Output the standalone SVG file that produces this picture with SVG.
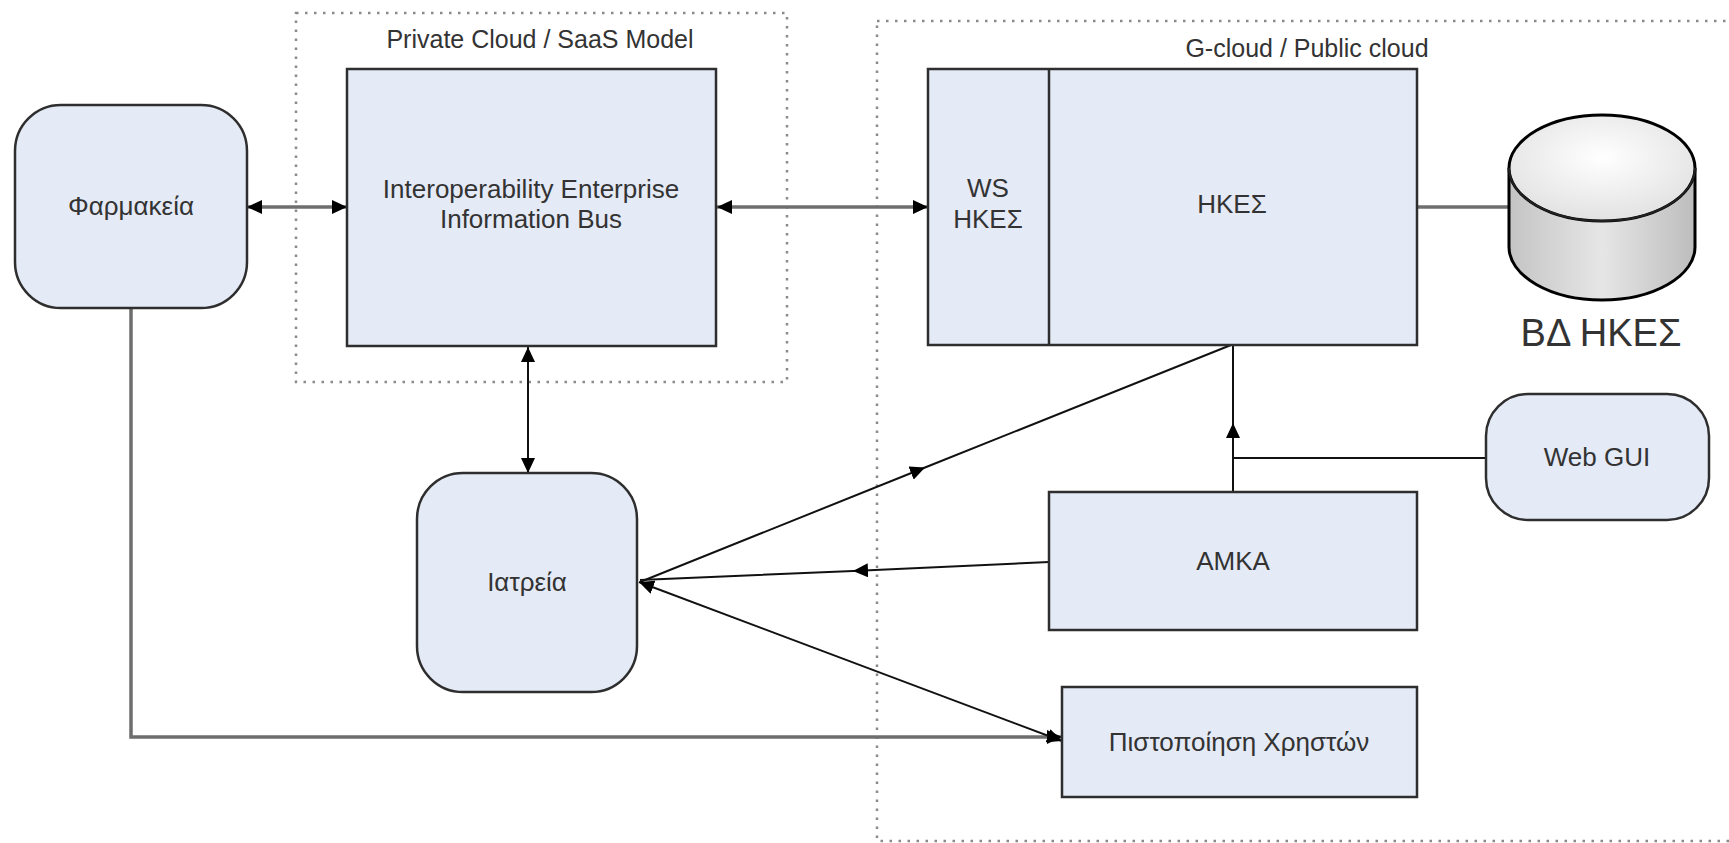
<svg xmlns="http://www.w3.org/2000/svg" width="1729" height="843" viewBox="0 0 1729 843">
  <style>
    .zone { fill: none; stroke: #8a8a8a; stroke-width: 2.5; stroke-dasharray: 2.5 6.5; }
    .box { fill: #e4eaf6; stroke: #2e2e2e; stroke-width: 2.5; }
    .lbl { font-family: "Liberation Sans", Arial, sans-serif; font-size: 26px; fill: #333333; text-anchor: middle; }
    .zlbl { font-family: "Liberation Sans", Arial, sans-serif; font-size: 25px; fill: #333333; text-anchor: middle; }
    .thick { fill: none; stroke: #6e6e6e; stroke-width: 3.5; }
    .thin { fill: none; stroke: #111111; stroke-width: 2; }
  </style>
  <defs>
    <marker id="arrowEnd" markerUnits="userSpaceOnUse" markerWidth="16" markerHeight="14" refX="15" refY="7" orient="auto">
      <path d="M0,0 L15,7 L0,14 Z" fill="#000"/>
    </marker>
    <marker id="arrowStart" markerUnits="userSpaceOnUse" markerWidth="16" markerHeight="14" refX="1" refY="7" orient="auto">
      <path d="M16,0 L1,7 L16,14 Z" fill="#000"/>
    </marker>
    <marker id="arrowMid" markerUnits="userSpaceOnUse" markerWidth="16" markerHeight="14" refX="15" refY="7" orient="auto">
      <path d="M0,0 L15,7 L0,14 Z" fill="#000"/>
    </marker>
    <linearGradient id="cylBody" x1="0" y1="0" x2="1" y2="0">
      <stop offset="0" stop-color="#c4c4c4"/>
      <stop offset="0.5" stop-color="#e6e6e6"/>
      <stop offset="1" stop-color="#bdbdbd"/>
    </linearGradient>
    <radialGradient id="cylTop" cx="0.5" cy="0.4" r="0.6">
      <stop offset="0" stop-color="#ffffff"/>
      <stop offset="1" stop-color="#e2e2e2"/>
    </radialGradient>
  </defs>

  <rect width="1729" height="843" fill="#ffffff"/>

  <!-- dotted zones -->
  <g id="zone-private">
    <rect class="zone" x="296" y="13" width="491" height="369"/>
    <text class="zlbl" x="540" y="48">Private Cloud / SaaS Model</text>
  </g>
  <g id="zone-gcloud">
    <rect class="zone" x="877" y="21" width="880" height="820"/>
    <text class="zlbl" x="1307" y="57">G-cloud / Public cloud</text>
  </g>

  <!-- connectors -->
  <g id="connectors">
    <line class="thick" x1="247" y1="207" x2="347" y2="207" marker-start="url(#arrowStart)" marker-end="url(#arrowEnd)"/>
    <line class="thick" x1="717" y1="207" x2="928" y2="207" marker-start="url(#arrowStart)" marker-end="url(#arrowEnd)"/>
    <line class="thick" x1="1417" y1="207" x2="1509" y2="207"/>
    <line class="thin" x1="528" y1="347" x2="528" y2="473" marker-start="url(#arrowStart)" marker-end="url(#arrowEnd)"/>
    <polyline class="thick" points="131,308 131,737 1062,737" marker-end="url(#arrowEnd)"/>
    <polyline class="thin" points="640,582 925,467.5 1231,345" marker-mid="url(#arrowMid)"/>
    <polyline class="thin" points="1049,562 853,571 640,580" marker-mid="url(#arrowMid)"/>
    <polyline class="thin" points="1233,492 1233,423 1233,346" marker-mid="url(#arrowMid)"/>
    <line class="thin" x1="1486" y1="458" x2="1233" y2="458"/>
    <line class="thin" x1="639" y1="582" x2="1062" y2="741" marker-start="url(#arrowStart)" marker-end="url(#arrowEnd)"/>
  </g>

  <!-- nodes -->
  <g id="node-farmakeia">
    <rect class="box" x="15" y="105" width="232" height="203" rx="46" ry="46"/>
    <text class="lbl" x="131" y="215">Φαρμακεία</text>
  </g>
  <g id="node-bus">
    <rect class="box" x="347" y="69" width="369" height="277"/>
    <text class="lbl" x="531" y="198">Interoperability Enterprise</text>
    <text class="lbl" x="531" y="228">Information Bus</text>
  </g>
  <g id="node-hkes">
    <rect class="box" x="928" y="69" width="489" height="276"/>
    <line x1="1049" y1="69" x2="1049" y2="345" stroke="#2e2e2e" stroke-width="2.5"/>
    <text class="lbl" x="988" y="197">WS</text>
    <text class="lbl" x="988" y="228">ΗΚΕΣ</text>
    <text class="lbl" x="1232" y="213">ΗΚΕΣ</text>
  </g>
  <g id="node-db">
    <path d="M1509,168 L1509,247 A93,53 0 0 0 1695,247 L1695,168" fill="url(#cylBody)" stroke="#000" stroke-width="3"/>
    <ellipse cx="1602" cy="168" rx="93" ry="53" fill="url(#cylTop)" stroke="#000" stroke-width="3"/>
    <path d="M1509,168 A93,53 0 0 0 1695,168" fill="none" stroke="#222" stroke-width="2"/>
    <text x="1601" y="346" font-family="'Liberation Sans', Arial, sans-serif" font-size="38" fill="#333333" text-anchor="middle">ΒΔ ΗΚΕΣ</text>
  </g>
  <g id="node-webgui">
    <rect class="box" x="1486" y="394" width="223" height="126" rx="42" ry="42"/>
    <text class="lbl" x="1597" y="466">Web GUI</text>
  </g>
  <g id="node-iatreia">
    <rect class="box" x="417" y="473" width="220" height="219" rx="46" ry="46"/>
    <text class="lbl" x="527" y="591">Ιατρεία</text>
  </g>
  <g id="node-amka">
    <rect class="box" x="1049" y="492" width="368" height="138"/>
    <text class="lbl" x="1233" y="570">ΑΜΚΑ</text>
  </g>
  <g id="node-auth">
    <rect class="box" x="1062" y="687" width="355" height="110"/>
    <text class="lbl" x="1239" y="751">Πιστοποίηση Χρηστών</text>
  </g>
</svg>
